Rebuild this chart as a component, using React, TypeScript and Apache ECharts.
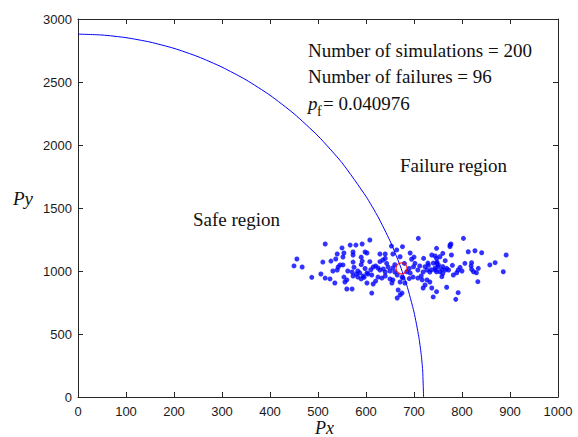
import React, { useEffect, useRef } from "react";
import * as echarts from "echarts";

// Limit-state curve
const limitX = [0, 50, 100, 150, 200, 250, 300, 350, 400, 450, 500, 550, 600, 625, 650, 670, 685, 700, 710, 715, 718, 720];
const limitY = [2880, 2873, 2852, 2817, 2767, 2701, 2618, 2517, 2395, 2248, 2072, 1859, 1592, 1430, 1239, 1054, 887, 674, 478, 338, 215, 0];

// Monte Carlo samples (Px, Py)
const samplesPx = [
  450, 456, 467, 487, 515, 506, 515, 525, 535, 510, 527, 537, 550, 540, 554, 567, 579, 592, 573, 573,
  552, 573, 592, 546, 552, 542, 531, 540, 554, 560, 556, 560, 571, 571, 573, 583, 594, 590, 596, 608,
  709, 653, 676, 664, 629, 640, 656, 671, 692, 598, 602, 608, 629, 635, 643, 695, 702, 699, 737, 744,
  729, 740, 748, 723, 615, 625, 629, 640, 646, 656, 660, 665, 685, 692, 708, 719, 727, 733, 744, 750,
  602, 604, 612, 625, 633, 650, 656, 675, 677, 698, 708, 717, 727, 733, 602, 615, 654, 671, 681, 723,
  719, 737, 612, 667, 675, 671, 665, 740, 803, 775, 777, 775, 813, 827, 841, 892, 778, 747, 754, 765,
  747, 747, 751, 806, 820, 819, 834, 858, 869, 796, 792, 789, 782, 768, 772, 765, 758, 744, 747, 754,
  820, 824, 830, 886, 758, 833, 747, 768, 792, 787, 620, 636, 650, 610, 583, 587, 598, 562, 575, 580,
  690, 712, 730, 736, 760, 780, 800, 760, 715, 690, 640, 620, 590, 640, 700, 720, 760, 680, 660, 590,
];
const samplesPy = [
  1040, 1095, 1032, 950, 1214, 976, 944, 937, 905, 1071, 1079, 1095, 1183, 1135, 1143, 1206, 1206, 1214, 1151, 1127,
  1111, 1071, 1079, 1048, 1048, 1032, 1000, 1008, 952, 929, 913, 857, 857, 992, 960, 952, 960, 937, 950, 1246,
  1259, 1198, 1193, 1167, 1135, 1135, 1135, 1113, 1143, 1151, 1143, 1074, 1074, 1087, 1061, 1093, 1061, 1034, 1127, 1119,
  1063, 1063, 1071, 1034, 1032, 1024, 1008, 992, 1032, 1024, 992, 968, 994, 984, 1008, 992, 1008, 992, 1024, 1032,
  984, 976, 968, 952, 944, 937, 929, 952, 944, 952, 944, 929, 929, 913, 905, 897, 905, 913, 905, 889,
  865, 865, 825, 849, 825, 810, 786, 794, 1259, 1206, 1214, 1193, 1153, 1161, 1145, 1127, 1127, 1180, 1113, 1082,
  1100, 1061, 1048, 1061, 1066, 1040, 1021, 1048, 1066, 1029, 1008, 986, 968, 1021, 1008, 1008, 1013, 1008, 994, 994,
  1013, 994, 986, 994, 955, 915, 836, 871, 828, 775, 1040, 1016, 1000, 1010, 1000, 985, 1020, 1000, 1030, 976,
  1020, 1040, 1045, 1010, 1035, 1045, 1000, 980, 960, 940, 960, 920, 1110, 1100, 1110, 1100, 1140, 1060, 1050, 1050,
];

// Sample mean (red circle)
const meanPoint = [674, 1021];

const xTicks = { min: 0, max: 1000, interval: 100 };
const yTicks = { min: 0, max: 3000, interval: 500 };

const infoLines = ["Number of simulations = 200", "Number of failures = 96"];
const pfValue = "= 0.040976";

export default function App() {
  const ref = useRef<HTMLDivElement>(null);

  useEffect(() => {
    if (!ref.current) return;
    const chart = echarts.init(ref.current, undefined, { renderer: "svg" });
    const axisColor = "#262626";
    const labelStyle = {
      fontSize: 13,
      color: "#1a1a1a",
      fontFamily: "Liberation Sans",
      formatter: (v: number) => String(v),
    };
    const serif = "Liberation Serif";

    const baseX = {
      type: "value" as const,
      min: xTicks.min,
      max: xTicks.max,
      interval: xTicks.interval,
      splitLine: { show: false },
      axisLine: { show: true, onZero: false, lineStyle: { color: axisColor, width: 1 } },
      axisTick: { show: true, inside: true, length: 5, lineStyle: { color: axisColor } },
    };
    const baseY = {
      type: "value" as const,
      min: yTicks.min,
      max: yTicks.max,
      interval: yTicks.interval,
      splitLine: { show: false },
      axisLine: { show: true, onZero: false, lineStyle: { color: axisColor, width: 1 } },
      axisTick: { show: true, inside: true, length: 5, lineStyle: { color: axisColor } },
    };

    const scatterData = samplesPx.map((x, i) => [x, samplesPy[i]]);
    const curveData = limitX.map((x, i) => [x, limitY[i]]);

    const textBase = { fill: "#111", font: `19px "${serif}"` };

    chart.setOption({
      animation: false,
      backgroundColor: "#fff",
      grid: { left: 78, right: 20, top: 19, bottom: 40, containLabel: false },
      xAxis: [
        { ...baseX, position: "bottom", axisLabel: { ...labelStyle, margin: 8 } },
        { ...baseX, position: "top", axisLabel: { show: false } },
      ],
      yAxis: [
        { ...baseY, position: "left", axisLabel: { ...labelStyle, margin: 6 } },
        { ...baseY, position: "right", axisLabel: { show: false } },
      ],
      series: [
        {
          type: "line",
          data: curveData,
          showSymbol: false,
          smooth: 0.2,
          lineStyle: { color: "#0000ff", width: 1 },
          z: 2,
        },
        {
          type: "scatter",
          data: scatterData,
          symbol: "circle",
          symbolSize: 5,
          itemStyle: { color: "#0000ff" },
          z: 3,
        },
        {
          type: "scatter",
          data: [meanPoint],
          symbol: "circle",
          symbolSize: 11,
          itemStyle: { color: "rgba(0,0,0,0)", borderColor: "#ff0000", borderWidth: 1.2 },
          z: 4,
        },
      ],
      graphic: [
        { type: "text", left: 308, top: 41, style: { ...textBase, text: infoLines[0] } },
        { type: "text", left: 308, top: 67, style: { ...textBase, text: infoLines[1] } },
        { type: "text", left: 308, top: 94, style: { ...textBase, text: "p", font: `italic 19px "${serif}"` } },
        { type: "text", left: 317, top: 104, style: { ...textBase, text: "f", font: `14px "${serif}"` } },
        { type: "text", left: 323, top: 94, style: { ...textBase, text: pfValue } },
        { type: "text", left: 400, top: 156, style: { ...textBase, text: "Failure region" } },
        { type: "text", left: 193, top: 210, style: { ...textBase, text: "Safe region" } },
        {
          type: "text",
          x: 315,
          y: 428,
          style: { ...textBase, text: "Px", font: `italic 18px "${serif}"`, align: "left", verticalAlign: "middle" },
        },
        { type: "text", left: 13, top: 189, style: { ...textBase, text: "Py", font: `italic 19px "${serif}"` } },
      ],
    });
    return () => chart.dispose();
  }, []);

  return (
    <div
      ref={ref}
      style={{ position: "fixed", left: 0, top: 0, width: 578, height: 437, background: "#fff" }}
    />
  );
}
